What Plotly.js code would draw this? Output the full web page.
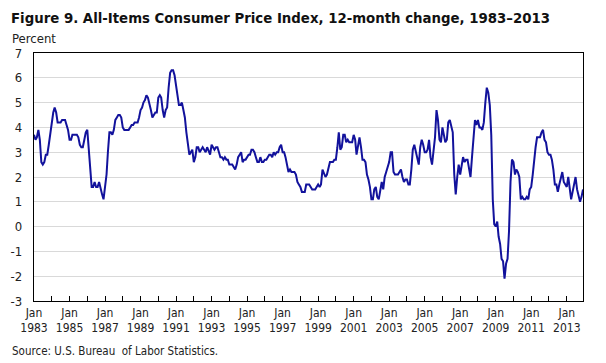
<!DOCTYPE html>
<html>
<head>
<meta charset="utf-8">
<script src="https://cdn.plot.ly/plotly-3.0.1.min.js"></script>
<style>
  html, body { margin: 0; padding: 0; background: #ffffff; }
  #chart { width: 606px; height: 363px; }
</style>
</head>
<body>
<div id="chart"></div>
<script>
// 12-month percent change, All-Items CPI, monthly Jan 1983 – Dec 2013
const startYear = 1983;
const cpi1980s = [
  3.7, 3.5, 3.6, 3.9, 3.5, 2.6, 2.5, 2.6, 2.9, 2.9, 3.3, 3.8,   // 1983
  4.2, 4.6, 4.8, 4.6, 4.2, 4.2, 4.2, 4.3, 4.3, 4.3, 4.1, 3.9,   // 1984
  3.5, 3.5, 3.7, 3.7, 3.7, 3.7, 3.6, 3.3, 3.2, 3.2, 3.5, 3.8,   // 1985
  3.9, 3.1, 2.2, 1.6, 1.6, 1.8, 1.6, 1.6, 1.8, 1.5, 1.3, 1.1,   // 1986
  1.5, 2.1, 3.0, 3.8, 3.8, 3.7, 3.9, 4.3, 4.4, 4.5, 4.5, 4.4,   // 1987
  4.0, 3.9, 3.9, 3.9, 3.9, 4.0, 4.1, 4.1, 4.2, 4.2, 4.2, 4.4,   // 1988
  4.7, 4.8, 5.0, 5.1, 5.3, 5.2, 5.0, 4.7, 4.4, 4.5, 4.6, 4.6    // 1989
];
const cpi1990s = [
  5.2, 5.3, 5.2, 4.7, 4.4, 4.7, 4.8, 5.6, 6.2, 6.3, 6.3, 6.1,   // 1990
  5.7, 5.3, 4.9, 4.9, 5.0, 4.7, 4.4, 3.8, 3.4, 2.9, 3.0, 3.1,   // 1991
  2.6, 2.8, 3.2, 3.2, 3.0, 3.1, 3.2, 3.1, 3.0, 3.2, 3.0, 2.9,   // 1992
  3.3, 3.2, 3.1, 3.2, 3.2, 3.0, 2.8, 2.8, 2.7, 2.8, 2.7, 2.7,   // 1993
  2.5, 2.5, 2.5, 2.4, 2.3, 2.5, 2.8, 2.9, 3.0, 2.6, 2.7, 2.7,   // 1994
  2.8, 2.9, 2.9, 3.1, 3.1, 3.0, 2.8, 2.6, 2.6, 2.8, 2.6, 2.6,   // 1995
  2.7, 2.7, 2.8, 2.9, 2.9, 2.8, 3.0, 2.9, 3.0, 3.0, 3.2, 3.3,   // 1996
  3.0, 3.0, 2.8, 2.5, 2.2, 2.3, 2.2, 2.2, 2.2, 2.1, 1.8, 1.7,   // 1997
  1.6, 1.4, 1.4, 1.4, 1.7, 1.7, 1.7, 1.6, 1.5, 1.5, 1.5, 1.6,   // 1998
  1.7, 1.6, 1.7, 2.3, 2.1, 2.0, 2.1, 2.3, 2.6, 2.6, 2.6, 2.7    // 1999
];
const cpi2000s = [
  2.7, 3.2, 3.8, 3.1, 3.2, 3.7, 3.7, 3.4, 3.5, 3.4, 3.4, 3.4,   // 2000
  3.7, 3.5, 2.9, 3.3, 3.6, 3.2, 2.7, 2.7, 2.6, 2.1, 1.9, 1.6,   // 2001
  1.1, 1.1, 1.5, 1.6, 1.2, 1.1, 1.5, 1.8, 1.5, 2.0, 2.2, 2.4,   // 2002
  2.6, 3.0, 3.0, 2.2, 2.1, 2.1, 2.1, 2.2, 2.3, 2.0, 1.8, 1.9,   // 2003
  1.9, 1.7, 1.7, 2.3, 3.1, 3.3, 3.0, 2.7, 2.5, 3.2, 3.5, 3.3,   // 2004
  3.0, 3.0, 3.1, 3.5, 2.8, 2.5, 3.2, 3.6, 4.7, 4.3, 3.5, 3.4,   // 2005
  4.0, 3.6, 3.4, 3.5, 4.2, 4.3, 4.1, 3.8, 2.1, 1.3, 2.0, 2.5,   // 2006
  2.1, 2.4, 2.8, 2.6, 2.7, 2.7, 2.4, 2.0, 2.8, 3.5, 4.3, 4.1,   // 2007
  4.3, 4.0, 4.0, 3.9, 4.2, 5.0, 5.6, 5.4, 4.9, 3.7, 1.1, 0.1,   // 2008
  0.0, 0.2, -0.4, -0.7, -1.3, -1.4, -2.1, -1.5, -1.3, -0.2, 1.8, 2.7  // 2009
];
const cpi2010s = [
  2.6, 2.1, 2.3, 2.2, 2.0, 1.1, 1.2, 1.1, 1.1, 1.2, 1.1, 1.5,   // 2010
  1.6, 2.1, 2.7, 3.2, 3.6, 3.6, 3.6, 3.8, 3.9, 3.5, 3.4, 3.0,   // 2011
  2.9, 2.9, 2.7, 2.3, 1.7, 1.7, 1.4, 1.7, 2.0, 2.2, 1.8, 1.7,   // 2012
  1.6, 2.0, 1.5, 1.1, 1.4, 1.8, 2.0, 1.5, 1.2, 1.0, 1.2, 1.5    // 2013
];
const labelYears = [1983, 1985, 1987, 1989, 1991, 1993, 1995, 1997, 1999,
                    2001, 2003, 2005, 2007, 2009, 2011, 2013];
const yTicks = [-3, -2, -1, 0, 1, 2, 3, 4, 5, 6, 7];

const values = [].concat(cpi1980s, cpi1990s, cpi2000s, cpi2010s);
const pad = n => (n < 10 ? '0' + n : '' + n);
const dates = values.map((v, i) => {
  const y = startYear + Math.floor(i / 12);
  const m = (i % 12) + 1;
  return y + '-' + pad(m) + '-01';
});
const endYear = startYear + Math.floor((values.length - 1) / 12);

const tickDates = [];
const tickText = [];
for (let y = startYear; y <= endYear; y++) {
  tickDates.push(y + '-01-01');
  tickText.push(labelYears.indexOf(y) >= 0 ? 'Jan<br>' + y : '');
}

const narrow = '"DejaVu Sans Condensed", "Liberation Sans", sans-serif';

const trace = {
  type: 'scatter',
  mode: 'lines',
  x: dates,
  y: values,
  line: { color: '#12129c', width: 2 },
  hoverinfo: 'x+y',
  showlegend: false
};

const layout = {
  width: 606,
  height: 363,
  margin: { l: 34, r: 23, t: 53, b: 62, pad: 0 },
  paper_bgcolor: '#ffffff',
  plot_bgcolor: '#ffffff',
  font: { family: narrow, size: 12, color: '#222222' },
  title: {
    text: 'Figure 9. All-Items Consumer Price Index, 12-month change, 1983–2013',
    font: { family: narrow, size: 14.8, weight: 700, color: '#111111' },
    xref: 'container', x: 11 / 606, xanchor: 'left',
    yref: 'container', y: 1 - 18 / 363, yanchor: 'middle'
  },
  xaxis: {
    type: 'date',
    range: [dates[0], dates[dates.length - 1]],
    tickmode: 'array',
    tickvals: tickDates,
    ticktext: tickText,
    ticks: 'inside',
    ticklen: 5,
    tickwidth: 1,
    tickcolor: '#000000',
    showgrid: false,
    zeroline: false,
    showline: true,
    linecolor: '#000000',
    linewidth: 1.3,
    mirror: true,
    tickfont: { family: narrow, size: 12, color: '#222222' },
    tickangle: 0
  },
  yaxis: {
    range: [-3, 7],
    tickmode: 'array',
    tickvals: yTicks,
    ticktext: yTicks.map(String),
    ticks: '',
    showgrid: true,
    gridcolor: '#d9d9d9',
    gridwidth: 1,
    zeroline: false,
    showline: true,
    linecolor: '#000000',
    linewidth: 1.3,
    mirror: true,
    ticklabelstandoff: 8,
    tickfont: { family: narrow, size: 13, color: '#222222' }
  },
  annotations: [
    {
      text: 'Percent',
      xref: 'paper', yref: 'paper',
      x: (10 - 34) / 549, y: (300.7 - 38) / 248,
      xanchor: 'left', yanchor: 'middle',
      showarrow: false,
      font: { family: narrow, size: 13, color: '#222222' }
    },
    {
      text: 'Source: U.S. Bureau  of Labor Statistics.',
      xref: 'paper', yref: 'paper',
      x: (10 - 34) / 549, y: (300.7 - 351) / 248,
      xanchor: 'left', yanchor: 'middle',
      showarrow: false,
      font: { family: narrow, size: 11.5, color: '#222222' }
    }
  ]
};

Plotly.newPlot('chart', [trace], layout, { displayModeBar: false, staticPlot: true });
</script>
</body>
</html>
